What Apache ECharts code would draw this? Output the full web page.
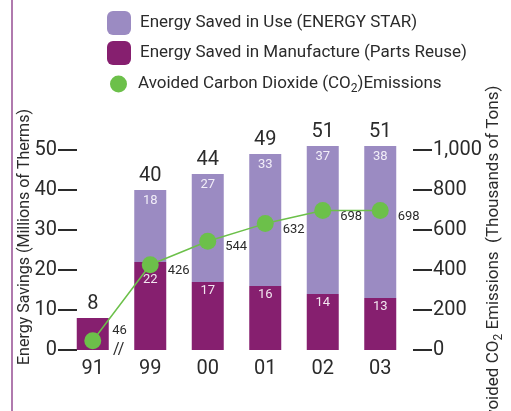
<!DOCTYPE html>
<html>
<head>
<meta charset="utf-8">
<script src="https://cdn.jsdelivr.net/npm/echarts@6/dist/echarts.min.js"></script>
<style>
  html, body { margin: 0; padding: 0; background: #fff; }
  #chart { width: 511px; height: 411px; }
</style>
</head>
<body>
<div id="chart"></div>
<script>
// 数据
var years = ['91', '99', '00', '01', '02', '03']
var manufacture = [8, 22, 17, 16, 14, 13]
var inUse = [0, 18, 27, 33, 37, 38]
var co2 = [46, 426, 544, 632, 698, 698]
var totals = [8, 40, 44, 49, 51, 51]

var FONT = "'Liberation Sans Narrow', Roboto, sans-serif"
var TEXT = '#2b2b2b'

var myChart = echarts.init(document.getElementById('chart'))

// 第一个点的标签放在右上方，避免和 // 重叠
var co2Data = co2.map(function (v, i) {
  return i === 0 ? { value: v, label: { offset: [2, -10] } } : v
})
// 99 年的 22 往下挪，避开绿点
var manufactureData = manufacture.map(function (v, i) {
  return i === 1 ? { value: v, label: { distance: 11 } } : v
})

var options = {
  backgroundColor: '#fff',
  textStyle: { fontFamily: FONT },
  graphic: [
    { type: 'rect', shape: { x: 11, y: 0, width: 2, height: 411 }, style: { fill: '#b07aae' } },
    { type: 'text', left: 113, top: 342, style: { text: '//', font: '16px ' + FONT, fill: TEXT } }
  ],
  legend: [
    {
      data: ['Energy Saved in Use (ENERGY STAR)', 'Energy Saved in Manufacture (Parts Reuse)'],
      orient: 'vertical',
      left: 102,
      top: 6,
      itemWidth: 24,
      itemHeight: 24,
      itemGap: 6,
      selectedMode: false,
      textStyle: { fontSize: 17, color: TEXT, fontFamily: FONT, padding: [0, 0, 0, 4] }
    },
    {
      data: [{ name: 'co2', icon: 'circle' }],
      left: 105,
      top: 70,
      itemWidth: 17,
      itemHeight: 17,
      selectedMode: false,
      formatter: function () {
        return '{a|Avoided Carbon Dioxide (CO}{s|2}{a|)Emissions}'
      },
      textStyle: {
        color: TEXT,
        fontFamily: FONT,
        padding: [0, 0, 0, 6],
        rich: {
          a: { fontSize: 17, color: TEXT, fontFamily: FONT, lineHeight: 22 },
          s: { fontSize: 12, color: TEXT, fontFamily: FONT, lineHeight: 22, verticalAlign: 'bottom', padding: [8, 0, 0, 0] }
        }
      }
    }
  ],
  grid: { left: 64, right: 102, top: 150, bottom: 61, outerBoundsMode: 'none' },
  xAxis: {
    type: 'category',
    data: years,
    axisLine: { show: false },
    axisTick: { show: false },
    axisLabel: { fontSize: 20, color: TEXT, margin: 9, fontFamily: FONT }
  },
  yAxis: [
    {
      type: 'value',
      min: 0,
      max: 50,
      interval: 10,
      offset: -13,
      splitLine: { show: false },
      axisLine: { show: false },
      axisTick: { show: true, length: 19, lineStyle: { color: TEXT, width: 2 } },
      axisLabel: { fontSize: 20, color: TEXT, margin: 20, fontFamily: FONT },
      name: 'Energy Savings (Millions of Therms)',
      nameLocation: 'middle',
      nameRotate: 90,
      nameGap: 44,
      nameMoveOverlap: false,
      nameTextStyle: { fontSize: 16, color: TEXT, fontFamily: FONT, padding: [0, 0, 0, 26] }
    },
    {
      type: 'value',
      min: 0,
      max: 1000,
      interval: 200,
      offset: 4,
      position: 'right',
      splitLine: { show: false },
      axisLine: { show: false },
      axisTick: { show: true, length: 19, lineStyle: { color: TEXT, width: 2 } },
      axisLabel: {
        fontSize: 20, color: TEXT, margin: 20, fontFamily: FONT,
        formatter: function (v) { return v.toLocaleString('en-US') }
      },
      name: '{a|Avoided CO}{s|2}{a| Emissions  (Thousands of Tons)}',
      nameLocation: 'middle',
      nameRotate: 90,
      nameGap: 70,
      nameMoveOverlap: false,
      nameTextStyle: {
        color: TEXT,
        padding: [0, 14, 0, 0],
        rich: {
          a: { fontSize: 17, color: TEXT, fontFamily: FONT, lineHeight: 22 },
          s: { fontSize: 12, color: TEXT, fontFamily: FONT, lineHeight: 22, verticalAlign: 'bottom', padding: [8, 0, 0, 0] }
        }
      }
    }
  ],
  series: [
    {
      name: 'Energy Saved in Manufacture (Parts Reuse)',
      type: 'bar',
      stack: 'e',
      barWidth: 32,
      clip: false,
      data: manufactureData,
      itemStyle: { color: '#861f6f' },
      label: {
        show: true,
        position: 'insideTop',
        distance: 2,
        fontSize: 13,
        color: '#f2e6f0',
        formatter: function (p) { return p.dataIndex === 0 ? '' : p.value }
      }
    },
    {
      name: 'Energy Saved in Use (ENERGY STAR)',
      type: 'bar',
      stack: 'e',
      barWidth: 32,
      clip: false,
      data: inUse,
      itemStyle: { color: '#9b8bc2' },
      label: {
        show: true,
        position: 'insideTop',
        distance: 4,
        fontSize: 13,
        color: '#f2eef8',
        formatter: function (p) { return p.value ? p.value : '' }
      }
    },
    {
      name: 'total',
      type: 'bar',
      stack: 'e',
      barWidth: 32,
      clip: false,
      data: totals.map(function () { return 0 }),
      itemStyle: { color: 'transparent' },
      label: {
        show: true,
        position: 'top',
        distance: 4,
        fontSize: 20,
        color: TEXT,
        formatter: function (p) { return totals[p.dataIndex] }
      }
    },
    {
      name: 'co2',
      type: 'line',
      yAxisIndex: 1,
      data: co2Data,
      z: 5,
      symbol: 'circle',
      symbolSize: 17,
      itemStyle: { color: '#6cc04a' },
      lineStyle: { color: '#6cc04a', width: 1.5 },
      label: {
        show: true,
        position: 'right',
        distance: 9,
        offset: [0, 6],
        fontSize: 13,
        color: TEXT
      }
    }
  ]
}

myChart.setOption(options)
</script>
</body>
</html>
